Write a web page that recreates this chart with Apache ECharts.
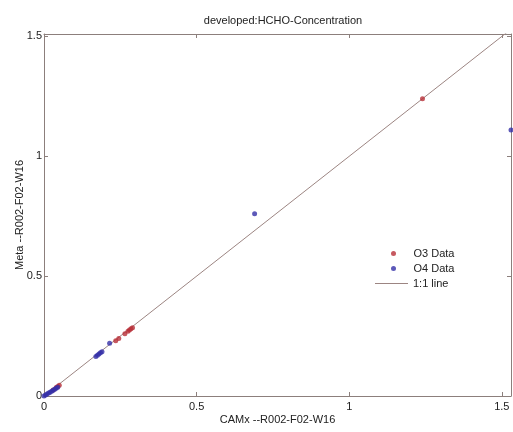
<!DOCTYPE html>
<html><head><meta charset="utf-8">
<script src="https://cdn.jsdelivr.net/npm/echarts@6/dist/echarts.min.js"></script>
<style>html,body{margin:0;padding:0;background:#fff}#c{width:513px;height:432px}</style>
</head><body><div id="c"></div>
<script>
const titleText = 'developed:HCHO-Concentration';
const xName = 'CAMx --R002-F02-W16';
const yName = 'Meta --R002-F02-W16';
const tickValues = [0, 0.5, 1, 1.5];
const o3X = [0.03, 0.04, 0.045, 0.05, 0.235, 0.245, 0.265, 0.275, 0.28, 0.285, 0.29, 1.24];
const o3Y = [0.025, 0.035, 0.04, 0.045, 0.23, 0.24, 0.26, 0.27, 0.275, 0.28, 0.285, 1.24];
const o4X = [0.0, 0.005, 0.01, 0.015, 0.02, 0.025, 0.03, 0.035, 0.04, 0.045, 0.17, 0.175, 0.18, 0.185, 0.19, 0.215, 0.69, 1.53];
const o4Y = [0.0, 0.004, 0.008, 0.012, 0.016, 0.02, 0.024, 0.028, 0.032, 0.036, 0.165, 0.17, 0.175, 0.18, 0.185, 0.22, 0.76, 1.11];
const lineX = [0, 1.53];
const axisMax = 1.53;
const yMax = 1.51;

const zip = (a, b) => a.map((v, i) => [v, b[i]]);
const axisColor = '#8c7f7c';
const font = 'Liberation Sans, Arial, sans-serif';
const txt = '#222';

const mkAxis = (extra) => Object.assign({
  type: 'value', min: 0, interval: 0.5,
  axisLine: {show: true, onZero: false, lineStyle: {color: axisColor}},
  axisTick: {show: true, inside: true, length: 4, customValues: tickValues, lineStyle: {color: axisColor}},
  splitLine: {show: false}
}, extra);

const chart = echarts.init(document.getElementById('c'), null, {renderer: 'canvas'});
chart.setOption({
  animation: false,
  backgroundColor: '#fff',
  title: {text: titleText, left: 278, textAlign: 'center', top: 10,
    textStyle: {fontSize: 11, fontWeight: 'normal', color: txt, fontFamily: font}},
  grid: {left: 44, right: 2, top: 34, bottom: 36, show: false, outerBoundsMode: 'none', containLabel: false},
  legend: [
    {orient: 'vertical', left: 391, top: 247, padding: 0, itemWidth: 30, itemHeight: 5, itemGap: 2,
      textStyle: {fontSize: 11, color: txt, fontFamily: font, lineHeight: 13},
      data: [{name: 'O3 Data', icon: 'circle'}, {name: 'O4 Data', icon: 'circle'}]},
    {orient: 'vertical', left: 375, top: 277, padding: 0, itemWidth: 33, itemHeight: 1,
      textStyle: {fontSize: 11, color: txt, fontFamily: font, lineHeight: 13},
      data: [{name: '1:1 line', icon: 'rect', itemStyle: {color: '#9c8582'}}]}
  ],
  xAxis: [
    mkAxis({max: axisMax, position: 'bottom',
      name: xName, nameLocation: 'middle', nameGap: 18, nameMoveOverlap: false,
      nameTextStyle: {fontSize: 11, color: txt, fontFamily: font},
      axisLabel: {customValues: tickValues, fontSize: 11, color: txt, margin: 5, fontFamily: font}}),
    mkAxis({max: axisMax, position: 'top', axisLabel: {show: false}})
  ],
  yAxis: [
    mkAxis({max: yMax, position: 'left',
      name: yName, nameLocation: 'middle', nameGap: 19, nameMoveOverlap: false,
      nameTextStyle: {fontSize: 11, color: txt, fontFamily: font},
      axisLabel: {customValues: tickValues, fontSize: 11, color: txt, margin: 2, fontFamily: font}}),
    mkAxis({max: yMax, position: 'right', axisLabel: {show: false}})
  ],
  series: [
    {name: '1:1 line', type: 'line', data: zip(lineX, lineX), showSymbol: false, symbol: 'none',
      clip: true, lineStyle: {color: '#9c8582', width: 1}, itemStyle: {color: '#9c8582'}, z: 1},
    {name: 'O3 Data', type: 'scatter', data: zip(o3X, o3Y), symbolSize: 5,
      itemStyle: {color: '#b83038'}, z: 3},
    {name: 'O4 Data', type: 'scatter', data: zip(o4X, o4Y), symbolSize: 5,
      itemStyle: {color: '#3530a8'}, z: 4}
  ]
});
</script></body></html>
